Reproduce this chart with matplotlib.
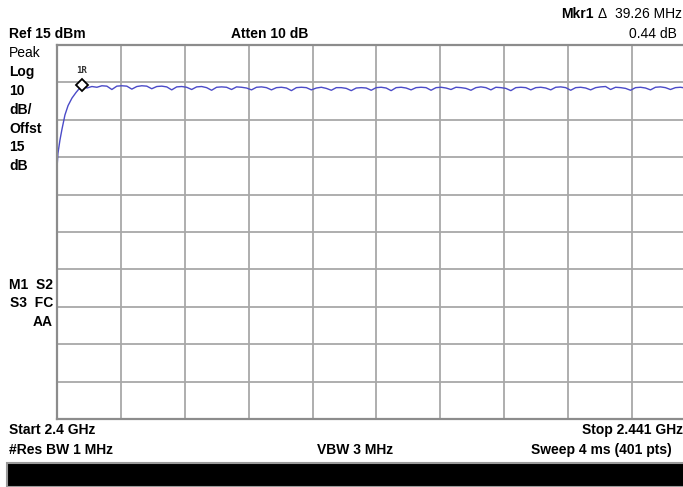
import numpy as np
import matplotlib.pyplot as plt

plt.rcParams['font.family'] = ['Liberation Sans', 'DejaVu Sans']

# Sweep settings
f_start = 2.400   # GHz
f_stop = 2.441    # GHz
ref_level = 15    # dBm
db_per_div = 10

# Trace: rising edge (offset MHz from start, dBm)
rise_mhz = [0.0, 0.06, 0.19, 0.32, 0.51, 0.71, 0.96, 1.22, 1.48, 1.60]
rise_dbm = [-17.9, -14.0, -10.4, -7.5, -3.7, -1.2, 0.8, 2.3, 3.6, 4.2]

# Trace: flat top, one value every 0.32 MHz starting at 1.92 MHz
flat_start_mhz = 1.92
flat_step_mhz = 0.32
flat_dbm = [
    3.5, 3.9, 3.7, 4.1, 4.0, 3.1, 4.0, 4.1, 4.0, 3.2,
    3.9, 4.1, 4.0, 3.3, 3.9, 4.0, 3.8, 3.0, 3.8, 3.9,
    3.7, 3.1, 3.8, 3.9, 3.6, 2.9, 3.7, 3.8, 3.7, 3.1,
    3.8, 3.7, 3.5, 3.0, 3.7, 3.8, 3.6, 3.0, 3.6, 3.7,
    3.5, 2.8, 3.6, 3.7, 3.6, 3.0, 3.5, 3.7, 3.4, 2.9,
    3.6, 3.6, 3.4, 2.8, 3.5, 3.6, 3.5, 2.9, 3.6, 3.7,
    3.5, 2.8, 3.6, 3.7, 3.5, 3.0, 3.6, 3.7, 3.6, 2.9,
    3.6, 3.7, 3.5, 3.1, 3.7, 3.6, 3.4, 2.9, 3.6, 3.8,
    3.6, 3.0, 3.7, 3.6, 3.4, 2.8, 3.6, 3.7, 3.6, 3.0,
    3.6, 3.7, 3.5, 3.0, 3.7, 3.8, 3.6, 2.9, 3.6, 3.7,
    3.5, 3.0, 3.6, 3.8, 3.9, 3.1, 3.7, 3.6, 3.4, 2.9,
    3.6, 3.7, 3.5, 3.0, 3.7, 3.8, 3.6, 3.1, 3.6, 3.7,
    3.5, 3.1, 3.6, 3.7,
]

marker_mhz = 1.60
marker_dbm = 4.2

flat_mhz = flat_start_mhz + flat_step_mhz * np.arange(len(flat_dbm))
freq = f_start + np.concatenate([rise_mhz, flat_mhz]) / 1000.0
level = np.concatenate([rise_dbm, flat_dbm])

W, H = 683, 487
fig = plt.figure(figsize=(W / 100, H / 100), dpi=100)

# plot area in pixels (right side runs off the screenshot)
left, top, width, height = 57, 45, 639, 374
ax = fig.add_axes([left / W, 1 - (top + height) / H, width / W, height / H])
ax.set_xlim(f_start, f_stop)
ax.set_ylim(ref_level - 10 * db_per_div, ref_level)
ax.set_xticks(np.linspace(f_start, f_stop, 11))
ax.set_yticks(np.arange(ref_level - 10 * db_per_div, ref_level + 1, db_per_div))
ax.grid(True, color='#a8a8a8', linewidth=1.3)
ax.tick_params(left=False, bottom=False, labelleft=False, labelbottom=False)
for s in ax.spines.values():
    s.set_color('#8c8c8c')
    s.set_linewidth(1.6)

ax.plot(freq, level, color='#4b4bc8', linewidth=1.0)
ax.plot(f_start + marker_mhz / 1000, marker_dbm, marker='D', markersize=6,
        markerfacecolor='white', markeredgecolor='black', markeredgewidth=1.3)
ax.annotate('1R', (f_start + marker_mhz / 1000, marker_dbm), xytext=(0, 9),
            textcoords='offset points', ha='center', fontsize=6.5,
            family='DejaVu Sans Mono', fontweight='bold', color='#333333')


def txt(x, y, s, ha='left', weight='bold', size=10):
    fig.text(x / W, 1 - y / H, s, ha=ha, va='center', fontsize=size,
             fontweight=weight, color='black')


txt(9, 34, 'Ref 15 dBm')
txt(270, 34, 'Atten 10 dB', ha='center')
txt(594, 14, 'Mkr1', ha='right')
txt(602, 14, '\u0394', ha='center', weight='normal')
txt(682, 14, '39.26 MHz', ha='right', weight='normal')
txt(677, 34, '0.44 dB', ha='right', weight='normal')

txt(9, 53, 'Peak', weight='normal')
for y, s in [(72, 'Log'), (91, '10'), (110, 'dB/'), (129, 'Offst'),
             (147, '15'), (166, 'dB')]:
    txt(9, y, s)

txt(53, 285, 'M1  S2', ha='right')
txt(53, 303, 'S3  FC', ha='right')
txt(53, 322, 'AA', ha='right')

txt(9, 430, 'Start 2.4 GHz')
txt(683, 430, 'Stop 2.441 GHz', ha='right')
txt(9, 450, '#Res BW 1 MHz')
txt(355, 450, 'VBW 3 MHz', ha='center')
txt(672, 450, 'Sweep 4 ms (401 pts)', ha='right')

# black status bar at the bottom
fig.patches.append(plt.Rectangle((7 / W, 0), 1, 24 / H, transform=fig.transFigure,
                                 facecolor='black', edgecolor='#9a9a9a',
                                 linewidth=1.5))

fig.savefig('out.png', dpi=100, facecolor='white')
